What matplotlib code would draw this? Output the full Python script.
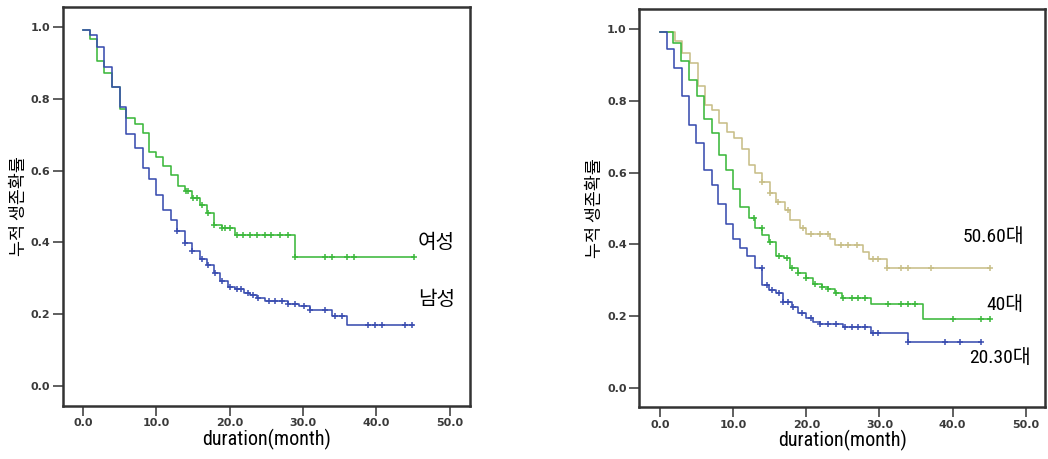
import matplotlib
matplotlib.use("Agg")
import matplotlib.pyplot as plt
from matplotlib import font_manager
import numpy as np

# ---------------- data ----------------
# Left panel: sex
female_times = [0, 0.9, 1.9, 2.9, 4.0, 5.0, 5.9, 7.1, 8.1, 9.0, 10.0, 10.9, 12.0, 13.0, 13.9,
                14.8, 16.0, 16.9, 17.8, 18.9, 20.7, 28.9]
female_surv = [0.993, 0.968, 0.906, 0.873, 0.832, 0.773, 0.746, 0.730, 0.704, 0.653, 0.639, 0.614,
               0.588, 0.556, 0.542, 0.523, 0.504, 0.481, 0.448, 0.439, 0.420, 0.358]
female_end = 45.1
female_cens = [14.0, 14.3, 15.0, 15.5, 16.2, 17.0, 17.8, 18.9, 19.4, 20.0, 21.0, 21.8, 22.8, 23.7,
               24.8, 25.7, 26.9, 28.0, 28.9, 33.0, 33.9, 36.0, 36.9, 45.1]

male_times = [0, 0.9, 1.9, 2.9, 4.0, 5.0, 5.9, 7.1, 8.1, 9.0, 10.0, 10.9, 12.0, 12.8, 13.9, 14.8,
              16.0, 16.9, 17.8, 18.7, 19.8, 20.7, 21.9, 22.8, 23.7, 24.8, 28.0, 29.5, 31.0, 33.9, 36.0]
male_surv = [0.993, 0.977, 0.945, 0.889, 0.832, 0.776, 0.702, 0.662, 0.606, 0.576, 0.532, 0.490,
             0.462, 0.433, 0.397, 0.377, 0.353, 0.337, 0.314, 0.291, 0.277, 0.270, 0.260, 0.254,
             0.245, 0.237, 0.229, 0.222, 0.212, 0.196, 0.171]
male_end = 45.0
male_cens = [12.8, 13.9, 14.8, 16.2, 17.1, 18.0, 18.9, 20.0, 21.0, 21.6, 22.5, 23.2, 23.9, 25.3,
             26.2, 27.1, 28.0, 28.9, 30.1, 31.0, 33.0, 34.4, 35.3, 38.9, 39.8, 40.8, 43.9, 44.9]

# Right panel: age group
age_old_times = [0, 2.1, 3.05, 4.1, 5.15, 6.15, 7.06, 8.06, 9.1, 10.15, 11.2, 12.1, 13.0, 13.9,
                 15.0, 15.9, 17.1, 17.8, 19.1, 20.0, 23.3, 23.9, 27.8, 28.5, 31.0]
age_old_surv = [0.993, 0.968, 0.933, 0.907, 0.842, 0.789, 0.775, 0.738, 0.714, 0.696, 0.665,
                0.621, 0.598, 0.575, 0.542, 0.517, 0.496, 0.468, 0.445, 0.430, 0.415, 0.398,
                0.378, 0.360, 0.333]
age_old_end = 45.1
age_old_cens = [13.9, 15.0, 16.1, 17.5, 19.5, 20.7, 21.9, 23.0, 24.8, 25.7, 26.9, 29.1, 29.8,
                31.0, 33.0, 33.9, 37.1, 45.1]

age_mid_times = [0, 1.8, 2.87, 3.96, 5.0, 6.05, 7.06, 8.06, 8.97, 10.0, 11.0, 12.1, 13.0, 14.0,
                 14.9, 15.9, 16.9, 17.8, 18.9, 19.9, 20.9, 22.1, 23.0, 23.9, 24.9, 28.9, 36.0]
age_mid_surv = [0.993, 0.961, 0.912, 0.860, 0.814, 0.749, 0.710, 0.649, 0.607, 0.554, 0.503,
                0.473, 0.445, 0.426, 0.407, 0.367, 0.361, 0.333, 0.321, 0.305, 0.289, 0.280,
                0.274, 0.263, 0.250, 0.234, 0.192]
age_mid_end = 45.1
age_mid_cens = [12.8, 13.9, 15.0, 16.2, 17.3, 18.0, 18.9, 20.0, 21.2, 22.1, 23.0, 24.1, 25.0,
                26.2, 27.1, 28.0, 31.2, 33.0, 33.9, 34.8, 40.1, 43.9, 45.1]

age_young_times = [0, 1.0, 1.95, 2.96, 3.96, 4.95, 6.0, 7.06, 7.97, 8.97, 9.93, 10.9, 11.9, 13.0,
                   14.0, 14.9, 15.9, 16.8, 18.0, 18.9, 20.0, 20.9, 21.9, 25.0, 28.9, 33.9]
age_young_surv = [0.993, 0.946, 0.891, 0.814, 0.732, 0.684, 0.607, 0.566, 0.514, 0.457, 0.414,
                  0.389, 0.367, 0.333, 0.287, 0.273, 0.263, 0.240, 0.226, 0.207, 0.193, 0.184,
                  0.178, 0.168, 0.152, 0.127]
age_young_end = 43.9
age_young_cens = [13.9, 14.6, 15.3, 16.2, 16.8, 17.5, 18.2, 19.4, 20.7, 21.9, 23.0, 24.1, 25.3,
                  26.2, 27.1, 28.0, 29.1, 29.8, 33.9, 38.9, 41.0, 43.9]

x_ticks = [0, 10, 20, 30, 40, 50]
x_ticklabels = ["0.0", "10.0", "20.0", "30.0", "40.0", "50.0"]
y_ticks = [0.0, 0.2, 0.4, 0.6, 0.8, 1.0]
y_ticklabels = ["0.0", "0.2", "0.4", "0.6", "0.8", "1.0"]
xlabel = "duration(month)"
ylabel = "누적 생존확률"

left_labels = ["여성", "남성"]
right_labels = ["50.60대", "40대", "20.30대"]

# ---------------- style ----------------
GREEN = "#3cb83c"
BLUE = "#3a4db0"
TAN = "#c8bf88"

names = {f.name for f in font_manager.fontManager.ttflist}
narrow = None
for cand in ["Liberation Sans Narrow", "DejaVu Sans Condensed", "Roboto Condensed",
             "Open Sans Condensed"]:
    if cand in names:
        narrow = cand
        break
if narrow is None:
    narrow = "Liberation Sans"
    label_fs = 12.5
    tag_fs = 12.5
else:
    label_fs = 14.5
    tag_fs = 14
KR = "Noto Sans CJK KR"

fig = plt.figure(figsize=(10.48, 4.59), dpi=100)
axL = fig.add_axes([0.0598, 0.1155, 0.3887, 0.870])
axR = fig.add_axes([0.610, 0.1126, 0.387, 0.867])


def km(ax, times, surv, end, cens, color):
    t = list(times) + [end]
    s = list(surv) + [surv[-1]]
    ax.step(t, s, where="post", color=color, lw=1.15, zorder=3)
    ct = np.array(cens)
    idx = np.searchsorted(np.array(times), ct, side="right") - 1
    cs = np.array(surv)[idx]
    ax.plot(ct, cs, linestyle="none", marker="+", ms=5, mew=1.1, color=color, zorder=4)


def style(ax, xlim, ylim):
    ax.set_xlim(*xlim)
    ax.set_ylim(*ylim)
    ax.set_xticks(x_ticks)
    ax.set_xticklabels(x_ticklabels)
    ax.set_yticks(y_ticks)
    ax.set_yticklabels(y_ticklabels)
    ax.tick_params(direction="out", length=7, width=1.2, color="#444444",
                   labelsize=8, labelcolor="#3a3a3a", pad=2)
    for lab in ax.get_xticklabels() + ax.get_yticklabels():
        lab.set_fontweight("bold")
    for sp in ax.spines.values():
        sp.set_linewidth(1.8)
        sp.set_color("#333333")
    ax.set_xlabel(xlabel, family=[narrow, "DejaVu Sans"], fontsize=label_fs, labelpad=0)
    ax.set_ylabel(ylabel, family=[KR, "DejaVu Sans"], fontsize=12.5, labelpad=2)


km(axL, female_times, female_surv, female_end, female_cens, GREEN)
km(axL, male_times, male_surv, male_end, male_cens, BLUE)
style(axL, (-2.8, 52.8), (-0.056, 1.057))
axL.text(45.7, 0.40, left_labels[0], family=[KR], fontsize=14.5, va="center", ha="left")
axL.text(45.7, 0.24, left_labels[1], family=[KR], fontsize=14.5, va="center", ha="left")

km(axR, age_old_times, age_old_surv, age_old_end, age_old_cens, TAN)
km(axR, age_mid_times, age_mid_surv, age_mid_end, age_mid_cens, GREEN)
km(axR, age_young_times, age_young_surv, age_young_end, age_young_cens, BLUE)
style(axR, (-2.83, 52.6), (-0.055, 1.056))
axR.text(45.6, 0.42, right_labels[0], family=[narrow, KR], fontsize=tag_fs, va="center", ha="center")
axR.text(47.2, 0.23, right_labels[1], family=[narrow, KR], fontsize=tag_fs, va="center", ha="center")
axR.text(46.5, 0.083, right_labels[2], family=[narrow, KR], fontsize=tag_fs, va="center", ha="center")

fig.savefig("out.png", dpi=100)
